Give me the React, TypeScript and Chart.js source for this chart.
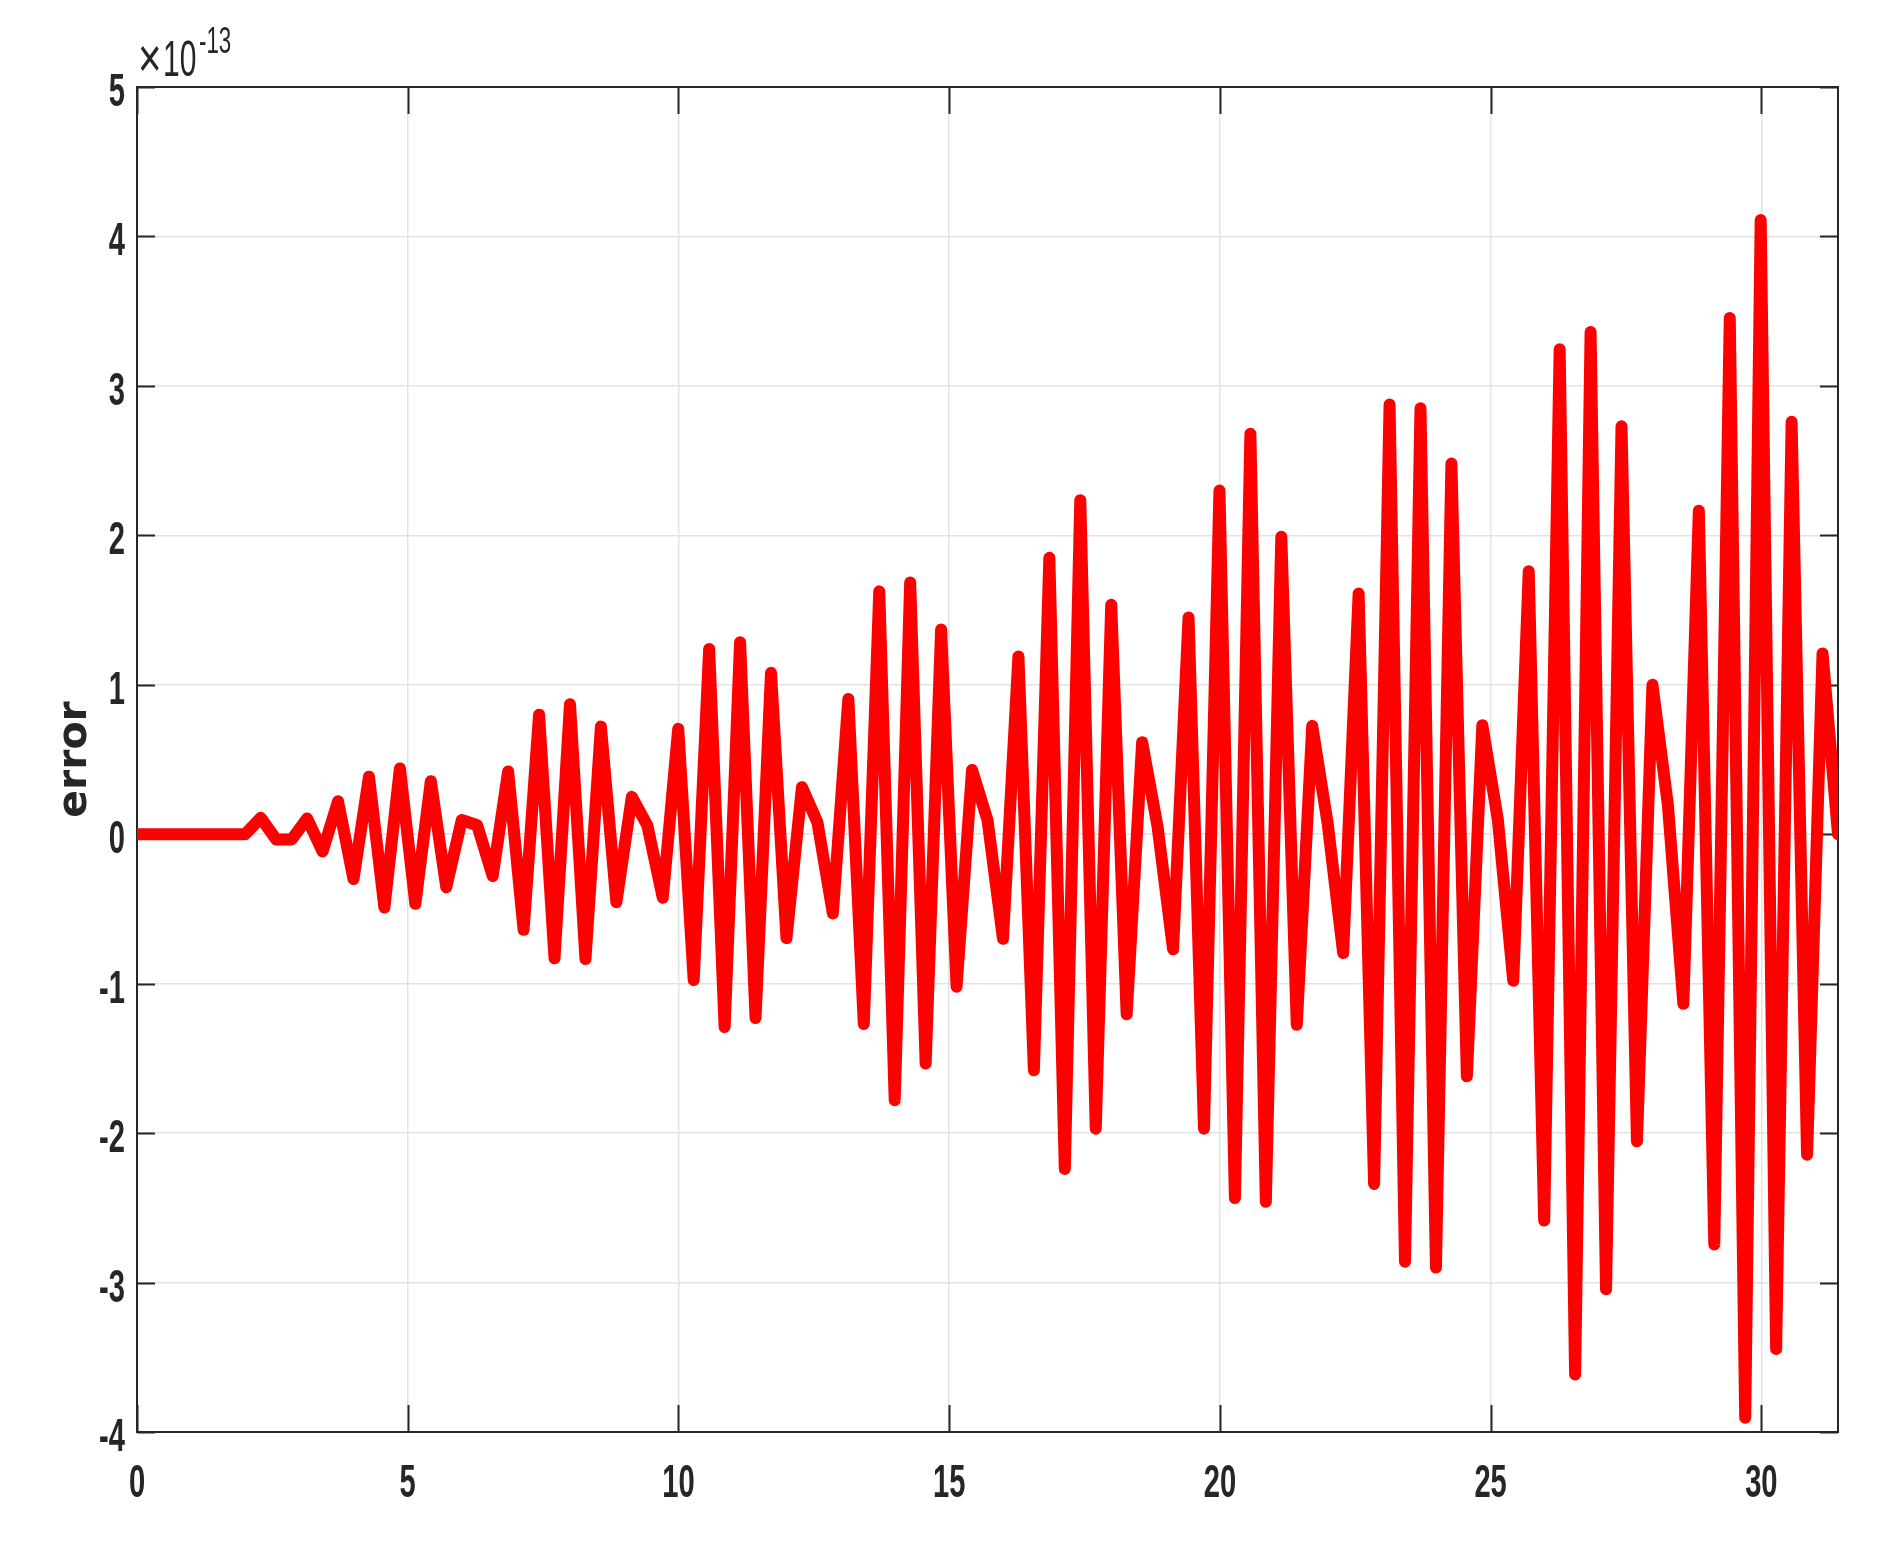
import React, { useEffect, useRef } from "react";
import { Chart, registerables } from "chart.js";

Chart.register(...registerables);

// sampling grid: x_k = k * pi / 11, k = 0..110 (0 .. 10*pi)
const SAMPLE_STEP = Math.PI / 11;
const X_MIN = 0;
const X_MAX = 10 * Math.PI;
const Y_MIN = -4;
const Y_MAX = 5;

// error values, in units of 1e-13
const errorValues: number[] = [
  0, 0, 0, 0, 0, 0, 0, 0, 0.11, -0.035,
  -0.035, 0.105, -0.115, 0.22, -0.3, 0.385, -0.49, 0.44, -0.465, 0.355,
  -0.355, 0.095, 0.06, -0.28, 0.42, -0.64, 0.8, -0.83, 0.87, -0.835,
  0.72, -0.455, 0.25, 0.06, -0.425, 0.705, -0.975, 1.24, -1.29, 1.285,
  -1.23, 1.08, -0.695, 0.315, 0.08, -0.53, 0.905, -1.27, 1.625, -1.78,
  1.685, -1.535, 1.37, -1.02, 0.43, 0.095, -0.7, 1.19, -1.58, 1.85,
  -2.24, 2.235, -1.97, 1.535, -1.205, 0.615, 0.05, -0.77, 1.45, -1.97,
  2.3, -2.435, 2.68, -2.46, 1.99, -1.275, 0.725, 0.07, -0.795, 1.61,
  -2.34, 2.875, -2.86, 2.85, -2.9, 2.48, -1.62, 0.73, 0.1, -0.98,
  1.76, -2.585, 3.245, -3.615, 3.36, -3.045, 2.73, -2.055, 1.0, 0.195,
  -1.135, 2.165, -2.745, 3.455, -3.905, 4.11, -3.445, 2.76, -2.145, 1.21,
  0,
];

const xTickValues = [0, 5, 10, 15, 20, 25, 30];
const xTickLabels = ["0", "5", "10", "15", "20", "25", "30"];
const yTickValues = [-4, -3, -2, -1, 0, 1, 2, 3, 4, 5];
const yTickLabels = ["-4", "-3", "-2", "-1", "0", "1", "2", "3", "4", "5"];
const yAxisTitle = "error";
const exponentTimes = "×";
const exponentBase = "10";
const exponentPower = "-13";

const AXIS_COLOR = "#262626";
const LABEL_FONT = "'Liberation Sans', Arial, Helvetica, sans-serif";

function drawScaledText(
  ctx: CanvasRenderingContext2D,
  text: string,
  x: number,
  y: number,
  font: string,
  sx: number,
  align: CanvasTextAlign
) {
  ctx.save();
  ctx.font = font;
  ctx.textBaseline = "alphabetic";
  ctx.textAlign = align;
  ctx.translate(x, y);
  ctx.scale(sx, 1);
  ctx.fillText(text, 0, 0);
  ctx.restore();
}

const matlabAxes = {
  id: "matlabAxes",
  beforeDatasetsDraw(chart: any) {
    const { ctx, chartArea, scales } = chart;
    const { left, right, top, bottom } = chartArea;
    ctx.save();
    ctx.strokeStyle = AXIS_COLOR;
    ctx.lineWidth = 2;
    ctx.beginPath();
    xTickValues.forEach((v) => {
      const px = Math.round(scales.x.getPixelForValue(v)) + 0.5;
      ctx.moveTo(px, bottom);
      ctx.lineTo(px, bottom - 27);
      ctx.moveTo(px, top);
      ctx.lineTo(px, top + 27);
    });
    yTickValues.forEach((v) => {
      const py = Math.round(scales.y.getPixelForValue(v)) + 0.5;
      ctx.moveTo(left, py);
      ctx.lineTo(left + 18, py);
      ctx.moveTo(right, py);
      ctx.lineTo(right - 18, py);
    });
    ctx.stroke();
    ctx.strokeRect(left, top, right - left, bottom - top);
    ctx.restore();
  },
  afterDraw(chart: any) {
    const { ctx, chartArea, scales } = chart;
    const { left, top, bottom } = chartArea;
    ctx.save();
    ctx.fillStyle = AXIS_COLOR;
    const tickFont = `bold 47px ${LABEL_FONT}`;
    xTickValues.forEach((v, i) => {
      const px = scales.x.getPixelForValue(v);
      drawScaledText(ctx, xTickLabels[i], px, bottom + 65, tickFont, 0.62, "center");
    });
    yTickValues.forEach((v, i) => {
      const py = scales.y.getPixelForValue(v);
      drawScaledText(ctx, yTickLabels[i], left - 12, py + 19, tickFont, 0.62, "right");
    });
    // exponent  ×10^-13
    drawScaledText(ctx, exponentTimes, left + 1, top - 10, `56px ${LABEL_FONT}`, 0.72, "left");
    drawScaledText(ctx, exponentBase, left + 26, top - 11, `50px ${LABEL_FONT}`, 0.6, "left");
    drawScaledText(ctx, exponentPower, left + 62, top - 34, `36px ${LABEL_FONT}`, 0.62, "left");
    // y axis title
    ctx.save();
    ctx.font = "bold 41px 'DejaVu Sans', Verdana, sans-serif";
    ctx.textAlign = "center";
    ctx.textBaseline = "alphabetic";
    ctx.translate(86, (top + bottom) / 2);
    ctx.rotate(-Math.PI / 2);
    ctx.fillText(yAxisTitle, 0, 0);
    ctx.restore();
    ctx.restore();
  },
};

export default function App() {
  const canvasRef = useRef<HTMLCanvasElement | null>(null);

  useEffect(() => {
    const canvas = canvasRef.current;
    if (!canvas) return;
    const points = errorValues.map((v, i) => ({ x: i * SAMPLE_STEP, y: v }));
    const chart = new Chart(canvas, {
      type: "line",
      data: {
        datasets: [
          {
            data: points,
            borderColor: "#ff0000",
            backgroundColor: "#ff0000",
            borderWidth: 12,
            pointRadius: 0,
            borderJoinStyle: "round",
            borderCapStyle: "round",
            tension: 0,
            fill: false,
          },
        ],
      },
      options: {
        animation: false,
        responsive: false,
        devicePixelRatio: 1,
        parsing: false as any,
        layout: { padding: { left: 137, top: 87, right: 42, bottom: 112 } },
        plugins: { legend: { display: false }, tooltip: { enabled: false } },
        scales: {
          x: {
            type: "linear",
            min: X_MIN,
            max: X_MAX,
            ticks: { display: false, stepSize: 5, includeBounds: false },
            grid: { color: "#e3e3e3", lineWidth: 1.5, drawTicks: false },
            border: { display: false },
          },
          y: {
            type: "linear",
            min: Y_MIN,
            max: Y_MAX,
            ticks: { display: false, stepSize: 1 },
            grid: { color: "#e3e3e3", lineWidth: 1.5, drawTicks: false },
            border: { display: false },
          },
        },
      },
      plugins: [matlabAxes],
    });
    return () => chart.destroy();
  }, []);

  return (
    <div style={{ position: "fixed", left: 0, top: 0, width: 1880, height: 1544, background: "#fff" }}>
      <canvas ref={canvasRef} width={1880} height={1544} style={{ width: 1880, height: 1544 }} />
    </div>
  );
}
